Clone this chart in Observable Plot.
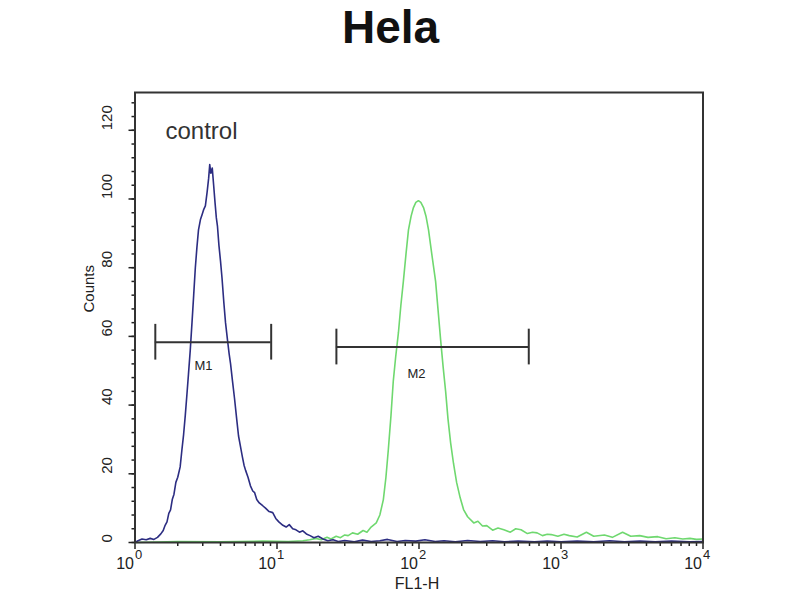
<!DOCTYPE html>
<html>
<head>
<meta charset="utf-8">
<script src="https://cdn.jsdelivr.net/npm/d3@7"></script>
<script src="https://cdn.jsdelivr.net/npm/@observablehq/plot@0.6"></script>
<style>
  body { margin: 0; background: #fff; }
</style>
</head>
<body>
<div id="chart"></div>
<script>
// control histogram (blue), FL1-H intensity vs counts
const controlX = [1.00, 1.05, 1.12, 1.20, 1.28, 1.36, 1.44, 1.52, 1.58, 1.63, 1.68, 1.73, 1.78, 1.83, 1.88, 1.94,
  2.00, 2.08, 2.14, 2.20, 2.26, 2.32, 2.38, 2.45, 2.52, 2.59, 2.66, 2.73, 2.80, 2.89, 2.97, 3.05, 3.13, 3.22,
  3.30, 3.36, 3.42, 3.50, 3.58, 3.66, 3.74, 3.81, 3.90, 4.00, 4.10, 4.22, 4.34, 4.48, 4.60, 4.71, 4.86, 5.02,
  5.20, 5.36, 5.50, 5.70, 5.86, 6.01, 6.25, 6.50, 6.75, 6.96, 7.20, 7.50, 7.93, 8.30, 8.80, 9.33, 9.80, 10.3,
  11.0, 11.6, 12.2, 12.9, 13.6, 14.4, 15.2, 16.1, 17.1, 18.2, 19.5, 21.1, 22.8, 24.8, 27, 30, 35, 40, 46, 53,
  60, 70, 80, 95, 110, 130, 150, 180, 220, 270, 330, 400, 500, 650, 800, 1000, 1300, 1700, 2200, 2800, 3600,
  4600, 6000, 8000, 10000];
const controlY = [0, 0.5, 1.0, 0.8, 1.2, 0.9, 1.5, 2.5, 3.5, 5.0, 6.0, 8.5, 9.5, 12.5, 14.0, 17.5,
  19.0, 22.0, 27.0, 31.5, 37.0, 43.0, 49.0, 56.0, 64.0, 72.0, 80.0, 86.0, 91.0, 94.0, 95.5, 97.0, 98.0, 102.0,
  106.0, 110.0, 107.5, 109.0, 104.0, 99.0, 94.5, 92.0, 86.5, 82.0, 77.0, 70.0, 64.0, 59.0, 55.0, 52.0, 47.0, 42.0,
  36.0, 31.0, 28.5, 25.0, 22.5, 21.0, 19.0, 16.5, 15.0, 14.5, 12.5, 11.5, 10.7, 10.0, 9.0, 8.7, 7.0, 6.0,
  5.0, 4.5, 5.2, 4.0, 3.7, 3.0, 3.4, 2.5, 2.0, 1.4, 1.8, 1.0, 0.5, 0.8, 0.3, 0.6, 0.2, 0.7, 0.3, 0.5,
  0.9, 0.3, 0.6, 0.4, 0.8, 0.3, 0.5, 0.2, 0.6, 0.3, 0.5, 0.2, 0.4, 0.2, 0.4, 0.2, 0.4, 0.2, 0.5, 0.2, 0.4,
  0.2, 0.4, 0.2, 0.3];

// stained sample histogram (green)
const sampleX = [1, 2, 4, 8, 12, 15.2, 17, 18.8, 20.5, 22.5, 24, 26.1, 28, 30, 31.7, 34, 37, 40.4, 43, 46,
  50, 53, 56.1, 58.5, 60.8, 63.5, 65.9, 68.5, 71.6, 74.5, 77.6, 81, 84.3, 88, 91.4, 95, 99.1, 103, 107.6, 112,
  116.7, 123, 130.9, 136, 142, 148, 154, 160, 167, 175, 184, 195, 206, 220, 243, 260, 280, 300, 330, 360,
  396, 440, 480, 523, 580, 630, 679, 740, 800, 853, 950, 1050, 1143, 1300, 1510, 1700, 2023, 2300, 2714, 3100,
  3581, 4100, 4802, 5500, 6336, 7200, 8088, 9000, 10000];
const sampleY = [0, 0.3, 0.2, 0.4, 0.3, 0.5, 0.8, 1.2, 0.8, 1.5, 1.0, 1.8, 1.4, 2.2, 2.0, 2.8, 2.4, 3.5, 3.0, 4.5,
  5.7, 8.0, 12.5, 19.0, 27.0, 37.0, 47.0, 54.0, 61.0, 69.0, 76.0, 84.0, 91.0, 95.0, 97.5, 99.0, 99.5, 99.0, 97.5, 95.0,
  91.0, 84.0, 76.0, 68.0, 59.0, 51.0, 44.0, 36.0, 29.0, 23.0, 17.5, 13.0, 9.6, 7.5, 5.7, 6.2, 4.8, 4.9, 3.6, 4.2,
  3.7, 3.0, 4.0, 3.7, 2.6, 3.0, 2.8, 2.0, 2.4, 2.3, 1.8, 2.4, 2.0, 1.6, 3.0, 1.8, 2.2, 1.5, 3.0, 1.8,
  2.0, 1.5, 1.7, 1.1, 1.4, 1.0, 1.2, 0.9, 1.0];

// gate markers
const markerNames = ["M1", "M2"];
const markerStart = [1.39, 26.2];
const markerEnd = [9.1, 593];
const markerLevel = [58.3, 56.9];
const markerLabelX = [3.04, 96];
const markerLabelY = [51.5, 49.2];

const noteText = ["control"];
const noteX = [1.64];
const noteY = [119.6];

const yTicks = [0, 20, 40, 60, 80, 100, 120];
const xTicks = [1, 10, 100, 1000, 10000];
const xTickBase = ["10", "10", "10", "10", "10"];
const xTickExp = ["0", "1", "2", "3", "4"];

const control = controlX.map((x, i) => ({x, y: controlY[i]}));
const sample = sampleX.map((x, i) => ({x, y: sampleY[i]}));
const markers = markerNames.map((name, i) => ({
  name, x1: markerStart[i], x2: markerEnd[i], y: markerLevel[i], lx: markerLabelX[i], ly: markerLabelY[i]
}));
const notes = noteText.map((text, i) => ({text, x: noteX[i], y: noteY[i]}));
const xLabels = xTicks.map((x, i) => ({x, base: xTickBase[i], exp: xTickExp[i]}));

const minorX = xTicks.slice(0, -1).flatMap(d => d3.range(2, 10).map(k => k * d));
const minorY = d3.range(0, 131, 4);

let chart = Plot.plot({
  width: 800,
  height: 600,
  marginLeft: 134.5,
  marginRight: 97.5,
  marginTop: 92,
  marginBottom: 58,
  x: {type: "log", domain: [1, 10000], label: null},
  y: {domain: [0, 131], label: null},
  style: {
    fontFamily: "'Liberation Sans', Arial, sans-serif",
    background: "#fff",
    color: "#222",
  },
  marks: [
    // axes: minor and major ticks
    Plot.axisY({ticks: minorY, tickSize: 3, strokeWidth: 1.5, tickFormat: () => "", label: null}),
    Plot.axisY({ticks: yTicks, tickSize: 6, strokeWidth: 1.5, tickFormat: () => "", label: null}),
    Plot.axisX({ticks: minorX, tickSize: 4, strokeWidth: 1.5, tickFormat: () => "", label: null}),
    Plot.axisX({ticks: xTicks, tickSize: 7, strokeWidth: 1.5, tickFormat: () => "", label: null}),
    Plot.text(xLabels, {x: "x", text: "base", frameAnchor: "bottom", textAnchor: "end", dx: -1, dy: 26,
      fontSize: 16, fill: "#222"}),
    Plot.text(xLabels, {x: "x", text: "exp", frameAnchor: "bottom", textAnchor: "start", dx: 0, dy: 16,
      fontSize: 13, fill: "#222"}),
    Plot.text(yTicks, {y: d => d, text: d => `${d}`, frameAnchor: "left", dx: -28, rotate: -90,
      fontSize: 15, fill: "#222"}),
    Plot.text(["Counts"], {frameAnchor: "left", dx: -46, dy: -5, rotate: -90, fontSize: 15, fill: "#222"}),
    Plot.text(["FL1-H"], {frameAnchor: "bottom", dx: -2, dy: 46, fontSize: 16, fill: "#222"}),
    Plot.text(["Hela"], {frameAnchor: "top", dx: -28.5, dy: -50, lineAnchor: "bottom",
      fontSize: 46, fontWeight: "bold", fill: "#111"}),

    // histograms
    Plot.line(sample, {x: "x", y: "y", stroke: "#6fd86f", strokeWidth: 1.6}),
    Plot.line(control, {x: "x", y: "y", stroke: "#2c2d82", strokeWidth: 1.6}),

    // markers
    Plot.ruleY(markers, {x1: "x1", x2: "x2", y: "y", stroke: "#333", strokeWidth: 2}),
    Plot.ruleX(markers, {x: "x1", y1: d => d.y - 5.2, y2: d => d.y + 5.2, stroke: "#333", strokeWidth: 2}),
    Plot.ruleX(markers, {x: "x2", y1: d => d.y - 5.2, y2: d => d.y + 5.2, stroke: "#333", strokeWidth: 2}),
    Plot.text(markers, {x: "lx", y: "ly", text: "name", fontSize: 13, fill: "#222"}),

    Plot.text(notes, {x: "x", y: "y", text: "text", textAnchor: "start", fontSize: 24, fill: "#333"}),

    Plot.frame({stroke: "#333", strokeWidth: 2}),
  ],
})

d3.select('#chart').append(() => chart)
</script>
</body>
</html>
